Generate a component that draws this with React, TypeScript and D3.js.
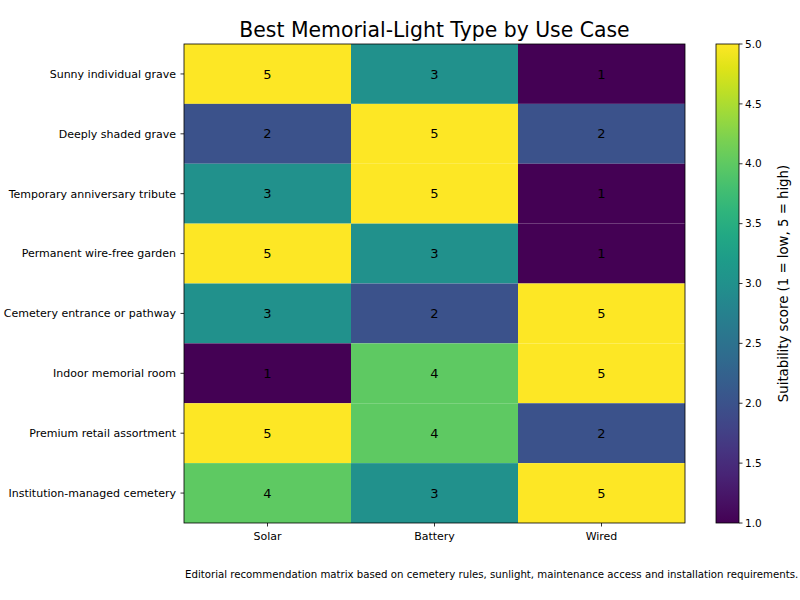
import React from 'react';
import * as d3 from 'd3';

const useCases = [
  'Sunny individual grave',
  'Deeply shaded grave',
  'Temporary anniversary tribute',
  'Permanent wire-free garden',
  'Cemetery entrance or pathway',
  'Indoor memorial room',
  'Premium retail assortment',
  'Institution-managed cemetery',
];
const lightTypes = ['Solar', 'Battery', 'Wired'];
const scores = [
  [5, 3, 1],
  [2, 5, 2],
  [3, 5, 1],
  [5, 3, 1],
  [3, 2, 5],
  [1, 4, 5],
  [5, 4, 2],
  [4, 3, 5],
];
const colorbarTicks = [1.0, 1.5, 2.0, 2.5, 3.0, 3.5, 4.0, 4.5, 5.0];

const W = 800, H = 600;
const plot = { left: 184, top: 44, right: 685, bottom: 523 };
const cbar = { left: 716, right: 739 };
const font = 'DejaVu Sans, sans-serif';

export default function App() {
  const x = d3.scaleBand<string>().domain(lightTypes).range([plot.left, plot.right]);
  const y = d3.scaleBand<string>().domain(useCases).range([plot.top, plot.bottom]);
  const color = d3.scaleSequential(d3.interpolateViridis).domain([1, 5]);
  const cy = d3.scaleLinear().domain([1, 5]).range([plot.bottom, plot.top]);

  const stops = d3.range(0, 1.0001, 0.05);

  return (
    <svg width={W} height={H} style={{ position: 'absolute', left: 0, top: 0, background: '#fff' }}>
      <defs>
        <linearGradient id="viridis" x1="0" y1="1" x2="0" y2="0">
          {stops.map(t => (
            <stop key={t} offset={t} stopColor={d3.interpolateViridis(t)} />
          ))}
        </linearGradient>
      </defs>

      <text x={(plot.left + plot.right) / 2} y={37} textAnchor="middle" fontFamily={font} fontSize={20.4}>
        Best Memorial-Light Type by Use Case
      </text>

      {/* heatmap cells */}
      {scores.map((row, i) =>
        row.map((v, j) => (
          <g key={`${i}-${j}`}>
            <rect
              x={x(lightTypes[j])!}
              y={y(useCases[i])!}
              width={x.bandwidth()}
              height={y.bandwidth()}
              fill={color(v)}
            />
            <text
              x={x(lightTypes[j])! + x.bandwidth() / 2}
              y={y(useCases[i])! + y.bandwidth() / 2}
              dy="0.36em"
              textAnchor="middle"
              fontFamily={font}
              fontSize={13}
              fill="#000"
            >
              {v}
            </text>
          </g>
        ))
      )}
      <rect
        x={plot.left}
        y={plot.top}
        width={plot.right - plot.left}
        height={plot.bottom - plot.top}
        fill="none"
        stroke="#000"
        strokeWidth={0.8}
      />

      {/* y axis */}
      {useCases.map(d => {
        const yy = y(d)! + y.bandwidth() / 2;
        return (
          <g key={d}>
            <line x1={plot.left - 3.5} x2={plot.left} y1={yy} y2={yy} stroke="#000" strokeWidth={0.8} />
            <text x={plot.left - 8} y={yy} dy="0.35em" textAnchor="end" fontFamily={font} fontSize={11}>
              {d}
            </text>
          </g>
        );
      })}

      {/* x axis */}
      {lightTypes.map(d => {
        const xx = x(d)! + x.bandwidth() / 2;
        return (
          <g key={d}>
            <line x1={xx} x2={xx} y1={plot.bottom} y2={plot.bottom + 3.5} stroke="#000" strokeWidth={0.8} />
            <text x={xx} y={plot.bottom + 17} textAnchor="middle" fontFamily={font} fontSize={11}>
              {d}
            </text>
          </g>
        );
      })}

      {/* colorbar */}
      <rect
        x={cbar.left}
        y={plot.top}
        width={cbar.right - cbar.left}
        height={plot.bottom - plot.top}
        fill="url(#viridis)"
        stroke="#000"
        strokeWidth={0.8}
      />
      {colorbarTicks.map(t => (
        <g key={t}>
          <line x1={cbar.right} x2={cbar.right + 3.5} y1={cy(t)} y2={cy(t)} stroke="#000" strokeWidth={0.8} />
          <text x={cbar.right + 6} y={cy(t)} dy="0.35em" fontFamily={font} fontSize={10.5}>
            {t.toFixed(1)}
          </text>
        </g>
      ))}
      <text
        transform={`translate(788,${(plot.top + plot.bottom) / 2}) rotate(-90)`}
        textAnchor="middle"
        fontFamily={font}
        fontSize={13.3}
      >
        Suitability score (1 = low, 5 = high)
      </text>

      <text x={185} y={578} fontFamily={font} fontSize={10.2}>
        Editorial recommendation matrix based on cemetery rules, sunlight, maintenance access and installation requirements.
      </text>
    </svg>
  );
}
